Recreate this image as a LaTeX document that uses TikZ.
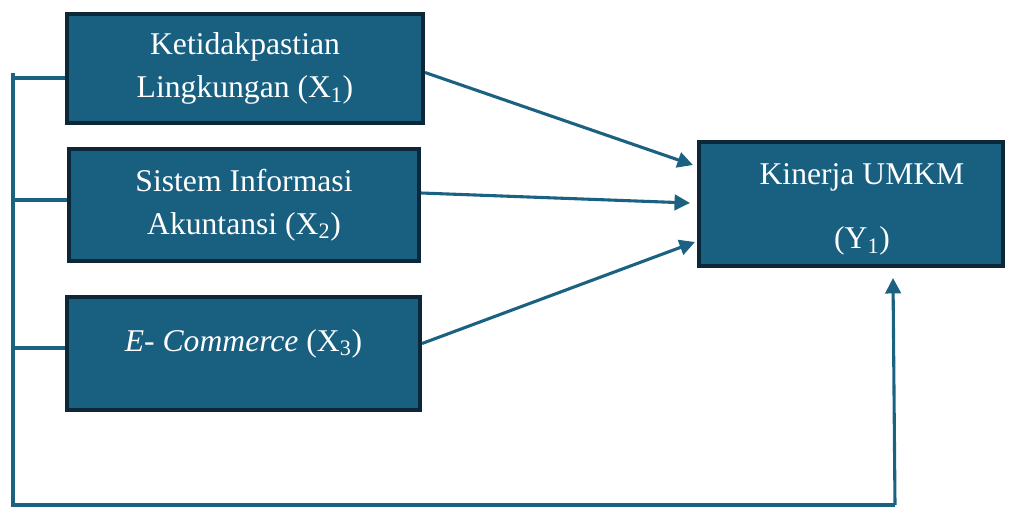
\documentclass[tikz,border=0pt]{standalone}
\usepackage{fontspec}
\setmainfont{Liberation Serif}
\usetikzlibrary{arrows.meta,calc}
\definecolor{boxfill}{RGB}{24,95,128}
\definecolor{boxline}{RGB}{12,40,56}
\definecolor{linkcol}{RGB}{27,98,130}

\begin{document}
\begin{tikzpicture}[x=0.025cm,y=-0.025cm,
	var/.style={draw=boxline,fill=boxfill,line width=2.8pt,text=white,align=center,inner sep=0pt,font=\fontsize{22.5}{30.6}\selectfont},
	link/.style={draw=linkcol,line width=2.2pt},
	into/.style={link,-{Triangle[length=11pt,width=11pt]}}]
		\useasboundingbox (0,0) rectangle (1018,506);
		\node[var,minimum width=8.9cm,minimum height=2.725cm] (X1) at (245,68.5) {Ketidakpastian\\Lingkungan (X\textsubscript{1})};
		\node[var,minimum width=8.75cm,minimum height=2.8cm] (X2) at (244,205) {Sistem Informasi\\Akuntansi (X\textsubscript{2})};
		\node[var,minimum width=8.825cm,minimum height=2.825cm,text depth=19pt] (X3) at (243.5,353.5) {\textit{E- Commerce} (X\textsubscript{3})};
		\node[var,minimum width=7.6cm,minimum height=3.1cm] (Y1) at (851,204) {\rule{0pt}{23pt}\hspace*{0.55cm}Kinerja UMKM\\[15pt]\hspace*{0.55cm}(Y\textsubscript{1})};
		%
		\coordinate (L) at (13,73);
		\coordinate (B) at (13,505);
		\coordinate (Bc) at (895,505);
		\coordinate (t1) at (13,78);
		\coordinate (t2) at (13,200);
		\coordinate (t3) at (13,348);
		% left bracket and bottom line
		\path[link] (L) -- (B) -- (Bc);
		\path[link] (t1) -- (t1 -| X1.west);
		\path[link] (t2) -- (t2 -| X2.west);
		\path[link] (t3) -- (t3 -| X3.west);
		%
		\path
		% arrows into Y
		($(X1.east)+(0,4)$) edge[into] ($(Y1.west)+(-4,-39)$)
		($(X2.east)+(0,-12)$) edge[into] ($(Y1.west)+(-7,-1)$)
		($(X3.east)+(0,-10)$) edge[into] ($(Y1.west)+(-2,38)$)
		% vertical arrow
		(Bc) edge[into] ($(Y1.south)+(42,10)$);
\end{tikzpicture}
\end{document}
